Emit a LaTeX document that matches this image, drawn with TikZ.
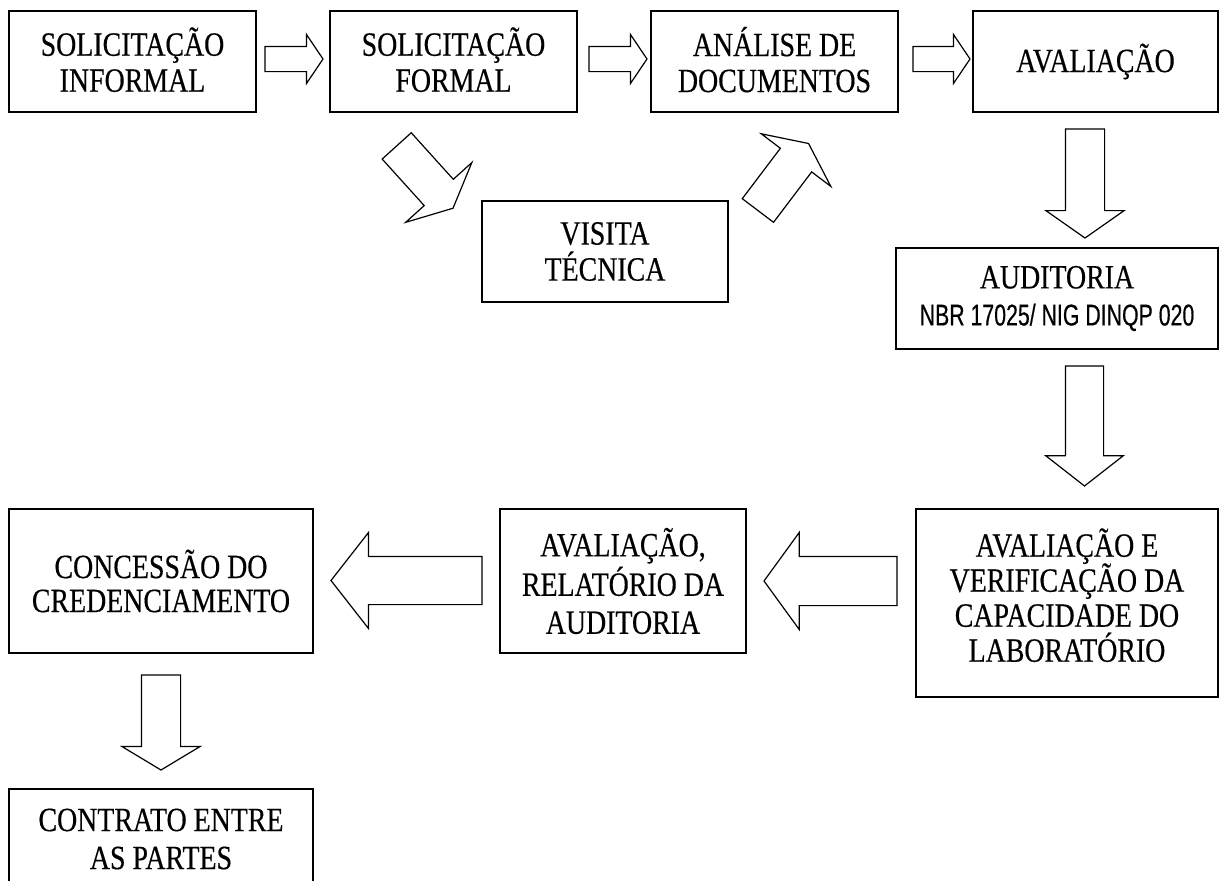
\documentclass[tikz,border=0pt]{standalone}
\usepackage{fontspec}
\setmainfont{Liberation Serif}[FakeStretch=0.82, FakeBold=0.4]
\newfontfamily\nbrfont{Liberation Sans}[FakeStretch=0.71, FakeBold=0.4]
\usepackage{tikz}
\usetikzlibrary{shapes, arrows, positioning}
\tikzstyle{box} = [draw, line width=1.5pt, inner sep=0pt, align=center, font=\fontsize{34}{36}\selectfont]
\tikzstyle{barrow} = [single arrow, draw, line width=1.2pt, inner xsep=0pt, outer sep=0pt, anchor=tail]

\begin{document}
\begin{tikzpicture}[x=1pt, y=-1pt]
			\useasboundingbox (0,0) rectangle (1219,881);
			
			\node [box, minimum width=247pt, minimum height=101pt, text depth=4pt] (inf) at (132.5,61.5) {SOLICITAÇÃO\\INFORMAL};
			\node [box, minimum width=247pt, minimum height=101pt, text depth=4pt] (form) at (453.5,61.5) {SOLICITAÇÃO\\FORMAL};
			\node [box, minimum width=247pt, minimum height=101pt, text depth=4pt] (docs) at (774.5,61.5) {ANÁLISE DE\\DOCUMENTOS};
			\node [box, minimum width=245pt, minimum height=101pt] (aval) at (1095.5,61.5) {AVALIAÇÃO};
			\node [box, minimum width=246pt, minimum height=101pt] (visita) at (605,251.5) {VISITA\\TÉCNICA};
			\node [box, minimum width=322pt, minimum height=101pt] (audit) at (1057,298.5) {AUDITORIA\\[1pt]\nbrfont\fontsize{30}{36}\selectfont NBR 17025/ NIG DINQP 020};
			\node [box, minimum width=302pt, minimum height=188pt, text depth=16pt] (capac) at (1067,603) {AVALIAÇÃO E\\[-1pt]VERIFICAÇÃO DA\\[-1pt]CAPACIDADE DO\\[-1pt]LABORATÓRIO};
			\node [box, minimum width=246pt, minimum height=144pt] (relat) at (623,581) {AVALIAÇÃO,\\[2pt]RELATÓRIO DA\\[2pt]AUDITORIA};
			\node [box, minimum width=304pt, minimum height=144pt] (conces) at (161,581) {CONCESSÃO DO\\[-2pt]CREDENCIAMENTO};
			\node [box, minimum width=304pt, minimum height=100pt] (contr) at (161,839) {CONTRATO ENTRE\\[2pt]AS PARTES};
			
			\node [barrow, minimum height=58pt, inner ysep=12pt, single arrow head extend=12pt, single arrow tip angle=112] (a1) at (265,59) {};
			\node [barrow, minimum height=58pt, inner ysep=12pt, single arrow head extend=12pt, single arrow tip angle=112] (a2) at (589,59) {};
			\node [barrow, minimum height=57pt, inner ysep=12pt, single arrow head extend=12pt, single arrow tip angle=112] (a3) at (913,59) {};
			\node [barrow, rotate=-47.9, minimum height=84pt, inner ysep=19pt, single arrow head extend=25pt, single arrow tip angle=129] (dr) at (396.7,145.9) {};
			\node [barrow, rotate=52.9, minimum height=84pt, inner ysep=19pt, single arrow head extend=24pt, single arrow tip angle=129] (ur) at (757.9,210.5) {};
			\node [barrow, rotate=-90, minimum height=109pt, inner ysep=19pt, single arrow head extend=19.5pt, single arrow tip angle=110] (d1) at (1085,129) {};
			\node [barrow, rotate=-90, minimum height=120pt, inner ysep=18.5pt, single arrow head extend=19.5pt, single arrow tip angle=104] (d2) at (1084.5,366) {};
			\node [barrow, rotate=180, minimum height=133pt, inner ysep=24pt, single arrow head extend=24pt, single arrow tip angle=108] (l1) at (897,581) {};
			\node [barrow, rotate=180, minimum height=151pt, inner ysep=23.5pt, single arrow head extend=24pt, single arrow tip angle=104] (l2) at (482,580.5) {};
			\node [barrow, rotate=-90, minimum height=95pt, inner ysep=19pt, single arrow head extend=19.5pt, single arrow tip angle=118] (d3) at (161,675) {};
		\end{tikzpicture}
\end{document}
